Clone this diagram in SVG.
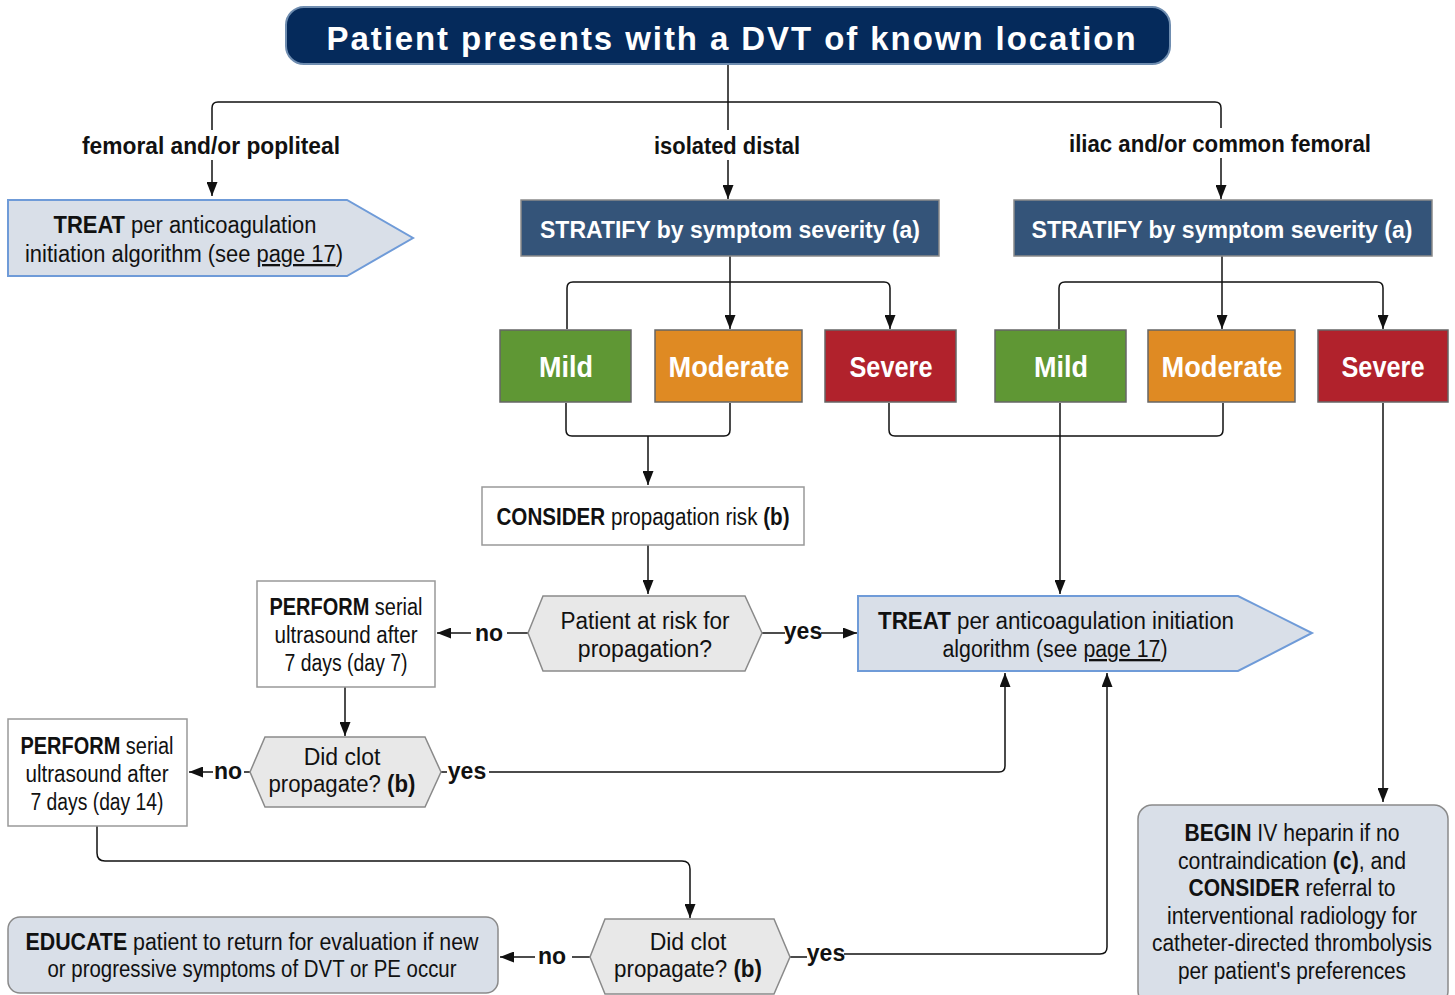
<svg xmlns="http://www.w3.org/2000/svg" width="1455" height="995" viewBox="0 0 1455 995">
<defs>
<marker id="ah" viewBox="0 0 14 11" refX="14" refY="5.5" markerWidth="14" markerHeight="11" markerUnits="userSpaceOnUse" orient="auto">
<path d="M0,0 L14,5.5 L0,11 z" fill="#111"/>
</marker>
<style>
.t{font-family:"Liberation Sans Narrow","Liberation Sans",Arial,sans-serif;font-size:23px;fill:#111;text-anchor:middle}
.b{font-weight:bold}
.w{fill:#fff}
.lbl{font-family:"Liberation Sans Narrow","Liberation Sans",Arial,sans-serif;font-size:23px;font-weight:bold;fill:#111;text-anchor:middle}
.sev{font-family:"Liberation Sans Narrow","Liberation Sans",Arial,sans-serif;font-size:29px;font-weight:bold;fill:#fff;text-anchor:middle}
.c{fill:none;stroke:#111;stroke-width:1.5}
.ca{fill:none;stroke:#111;stroke-width:1.5;marker-end:url(#ah)}
.wbox{fill:#fff;stroke:#999;stroke-width:1.5}
.gbox{fill:#d9dfe8;stroke:#8a8a8a;stroke-width:1.5}
.treat{fill:#d9dfe8;stroke:#6f9bd8;stroke-width:2}
.hex{fill:#e8e8e8;stroke:#8a8a8a;stroke-width:1.5}
.strat{fill:#345479;stroke:#8a8a8a;stroke-width:1.5}
.sbox{stroke:#666;stroke-width:1.5}
</style>
</defs>

<g id="connectors">
<!-- top split -->
<path class="c" d="M728,64 V130"/>
<path class="c" d="M212,130 V108 Q212,102 218,102 H1215 Q1221,102 1221,108 V128"/>
<path class="ca" d="M212,160 V196"/>
<path class="ca" d="M728,160 V199"/>
<path class="ca" d="M1221,158 V199"/>
<!-- stratify 1 -->
<path class="ca" d="M730,256 V329"/>
<path class="ca" d="M567,329 V288 Q567,282 573,282 H884 Q890,282 890,288 V329"/>
<!-- stratify 2 -->
<path class="ca" d="M1222,256 V329"/>
<path class="ca" d="M1059,329 V288 Q1059,282 1065,282 H1377 Q1383,282 1383,288 V329"/>
<!-- mild/moderate 1 join -->
<path class="c" d="M566,403 V430 Q566,436 572,436 H724 Q730,436 730,430 V403"/>
<path class="ca" d="M648,436 V485"/>
<!-- severe1 / moderate2 join -->
<path class="c" d="M889,403 V430 Q889,436 895,436 H1217 Q1223,436 1223,430 V403"/>
<path class="ca" d="M1060,403 V594"/>
<path class="ca" d="M1383,403 V802"/>
<!-- consider to hex1 -->
<path class="ca" d="M648,545 V594"/>
<!-- hex1 no/yes -->
<path class="c" d="M528,633 H507"/>
<path class="ca" d="M471,633 H437"/>
<path class="c" d="M762,633 H785"/>
<path class="ca" d="M821,633 H857"/>
<!-- perform1 to hex2 -->
<path class="ca" d="M345,687 V736"/>
<!-- hex2 no/yes -->
<path class="c" d="M250,772 H244"/>
<path class="ca" d="M213,772 H189"/>
<path class="c" d="M441,772 H447"/>
<path class="ca" d="M489,772 H999 Q1005,772 1005,766 V673"/>
<!-- perform2 to hex3 -->
<path class="ca" d="M97,826 V853 Q97,861 105,861 H682 Q690,861 690,869 V918"/>
<!-- hex3 no/yes -->
<path class="c" d="M590,957 H572"/>
<path class="ca" d="M535,957 H500"/>
<path class="c" d="M790,957 H807"/>
<path class="ca" d="M844,954 H1100 Q1107,954 1107,947 V673"/>
<!-- labels -->
<text class="lbl" x="211" y="154" textLength="258" lengthAdjust="spacingAndGlyphs">femoral and/or popliteal</text>
<text class="lbl" x="727" y="154" textLength="146" lengthAdjust="spacingAndGlyphs">isolated distal</text>
<text class="lbl" x="1220" y="152" textLength="302" lengthAdjust="spacingAndGlyphs">iliac and/or common femoral</text>
<text class="lbl" x="489" y="641">no</text>
<text class="lbl" x="803" y="639">yes</text>
<text class="lbl" x="228" y="779">no</text>
<text class="lbl" x="467" y="779">yes</text>
<text class="lbl" x="552" y="964">no</text>
<text class="lbl" x="826" y="961">yes</text>
</g>

<g id="title">
<rect x="286" y="7" width="884" height="57" rx="18" fill="#052a5b" stroke="#6f8db0" stroke-width="2"/>
<text x="732" y="50" font-family="'Liberation Sans',Arial,sans-serif" font-size="34" font-weight="bold" fill="#fff" text-anchor="middle" letter-spacing="2" textLength="811" lengthAdjust="spacingAndGlyphs">Patient presents with a DVT of known location</text>
</g>

<g id="treat-left">
<polygon class="treat" points="8,200 347,200 413,238 347,276 8,276"/>
<text class="t" x="185" y="233" textLength="263" lengthAdjust="spacingAndGlyphs"><tspan class="b">TREAT</tspan> per anticoagulation</text>
<text class="t" x="184" y="262" textLength="318" lengthAdjust="spacingAndGlyphs">initiation algorithm (see <tspan text-decoration="underline">page 17</tspan>)</text>
</g>

<g id="stratify-1">
<rect class="strat" x="521" y="200" width="418" height="56"/>
<text class="t w b" x="730" y="238" font-size="25" textLength="380" lengthAdjust="spacingAndGlyphs">STRATIFY by symptom severity (a)</text>
</g>
<g id="stratify-2">
<rect class="strat" x="1014" y="200" width="418" height="56"/>
<text class="t w b" x="1222" y="238" font-size="25" textLength="381" lengthAdjust="spacingAndGlyphs">STRATIFY by symptom severity (a)</text>
</g>

<g id="mild-1"><rect class="sbox" x="500" y="330" width="131" height="72" fill="#5f9734"/><text class="sev" x="566" y="377" textLength="54" lengthAdjust="spacingAndGlyphs">Mild</text></g>
<g id="moderate-1"><rect class="sbox" x="655" y="330" width="147" height="72" fill="#df8a23"/><text class="sev" x="729" y="377" textLength="121" lengthAdjust="spacingAndGlyphs">Moderate</text></g>
<g id="severe-1"><rect class="sbox" x="825" y="330" width="131" height="72" fill="#b1222c"/><text class="sev" x="891" y="377" textLength="83" lengthAdjust="spacingAndGlyphs">Severe</text></g>
<g id="mild-2"><rect class="sbox" x="995" y="330" width="131" height="72" fill="#5f9734"/><text class="sev" x="1061" y="377" textLength="54" lengthAdjust="spacingAndGlyphs">Mild</text></g>
<g id="moderate-2"><rect class="sbox" x="1148" y="330" width="147" height="72" fill="#df8a23"/><text class="sev" x="1222" y="377" textLength="121" lengthAdjust="spacingAndGlyphs">Moderate</text></g>
<g id="severe-2"><rect class="sbox" x="1318" y="330" width="130" height="72" fill="#b1222c"/><text class="sev" x="1383" y="377" textLength="83" lengthAdjust="spacingAndGlyphs">Severe</text></g>

<g id="consider">
<rect class="wbox" x="482" y="487" width="322" height="58"/>
<text class="t" x="643" y="525" textLength="293" lengthAdjust="spacingAndGlyphs"><tspan class="b">CONSIDER</tspan> propagation risk <tspan class="b">(b)</tspan></text>
</g>

<g id="risk-decision">
<polygon class="hex" points="528,633 543,596 745,596 762,633 745,671 543,671"/>
<text class="t" x="645" y="629" textLength="169" lengthAdjust="spacingAndGlyphs">Patient at risk for</text>
<text class="t" x="645" y="657">propagation?</text>
</g>

<g id="treat-right">
<polygon class="treat" points="858,596 1238,596 1312,633 1238,671 858,671"/>
<text class="t" x="1056" y="629" textLength="356" lengthAdjust="spacingAndGlyphs"><tspan class="b">TREAT</tspan> per anticoagulation initiation</text>
<text class="t" x="1055" y="657" textLength="225" lengthAdjust="spacingAndGlyphs">algorithm (see <tspan text-decoration="underline">page 17</tspan>)</text>
</g>

<g id="perform-1">
<rect class="wbox" x="257" y="581" width="178" height="106"/>
<text class="t" x="346" y="615" textLength="153" lengthAdjust="spacingAndGlyphs"><tspan class="b">PERFORM</tspan> serial</text>
<text class="t" x="346" y="643" textLength="143" lengthAdjust="spacingAndGlyphs">ultrasound after</text>
<text class="t" x="346" y="671" textLength="123" lengthAdjust="spacingAndGlyphs">7 days (day 7)</text>
</g>

<g id="clot-decision-1">
<polygon class="hex" points="250,772 265,737 425,737 441,772 425,807 265,807"/>
<text class="t" x="342" y="765">Did clot</text>
<text class="t" x="342" y="792" textLength="147" lengthAdjust="spacingAndGlyphs">propagate? <tspan class="b">(b)</tspan></text>
</g>

<g id="perform-2">
<rect class="wbox" x="8" y="719" width="179" height="107"/>
<text class="t" x="97" y="754" textLength="153" lengthAdjust="spacingAndGlyphs"><tspan class="b">PERFORM</tspan> serial</text>
<text class="t" x="97" y="782" textLength="143" lengthAdjust="spacingAndGlyphs">ultrasound after</text>
<text class="t" x="97" y="810" textLength="133" lengthAdjust="spacingAndGlyphs">7 days (day 14)</text>
</g>

<g id="clot-decision-2">
<polygon class="hex" points="590,957 605,919 774,919 790,957 774,994 605,994"/>
<text class="t" x="688" y="950">Did clot</text>
<text class="t" x="688" y="977" textLength="148" lengthAdjust="spacingAndGlyphs">propagate? <tspan class="b">(b)</tspan></text>
</g>

<g id="educate">
<rect class="gbox" x="8" y="917" width="490" height="76" rx="12"/>
<text class="t" x="252" y="950" textLength="453" lengthAdjust="spacingAndGlyphs"><tspan class="b">EDUCATE</tspan> patient to return for evaluation if new</text>
<text class="t" x="252" y="977" textLength="409" lengthAdjust="spacingAndGlyphs">or progressive symptoms of DVT or PE occur</text>
</g>

<g id="begin">
<rect class="gbox" x="1138" y="805" width="310" height="200" rx="14"/>
<text class="t" x="1292" y="841" textLength="215" lengthAdjust="spacingAndGlyphs"><tspan class="b">BEGIN</tspan> IV heparin if no</text>
<text class="t" x="1292" y="869" textLength="228" lengthAdjust="spacingAndGlyphs">contraindication <tspan class="b">(c)</tspan>, and</text>
<text class="t" x="1292" y="896" textLength="207" lengthAdjust="spacingAndGlyphs"><tspan class="b">CONSIDER</tspan> referral to</text>
<text class="t" x="1292" y="924" textLength="250" lengthAdjust="spacingAndGlyphs">interventional radiology for</text>
<text class="t" x="1292" y="951" textLength="280" lengthAdjust="spacingAndGlyphs">catheter-directed thrombolysis</text>
<text class="t" x="1292" y="979" textLength="228" lengthAdjust="spacingAndGlyphs">per patient's preferences</text>
</g>
</svg>
